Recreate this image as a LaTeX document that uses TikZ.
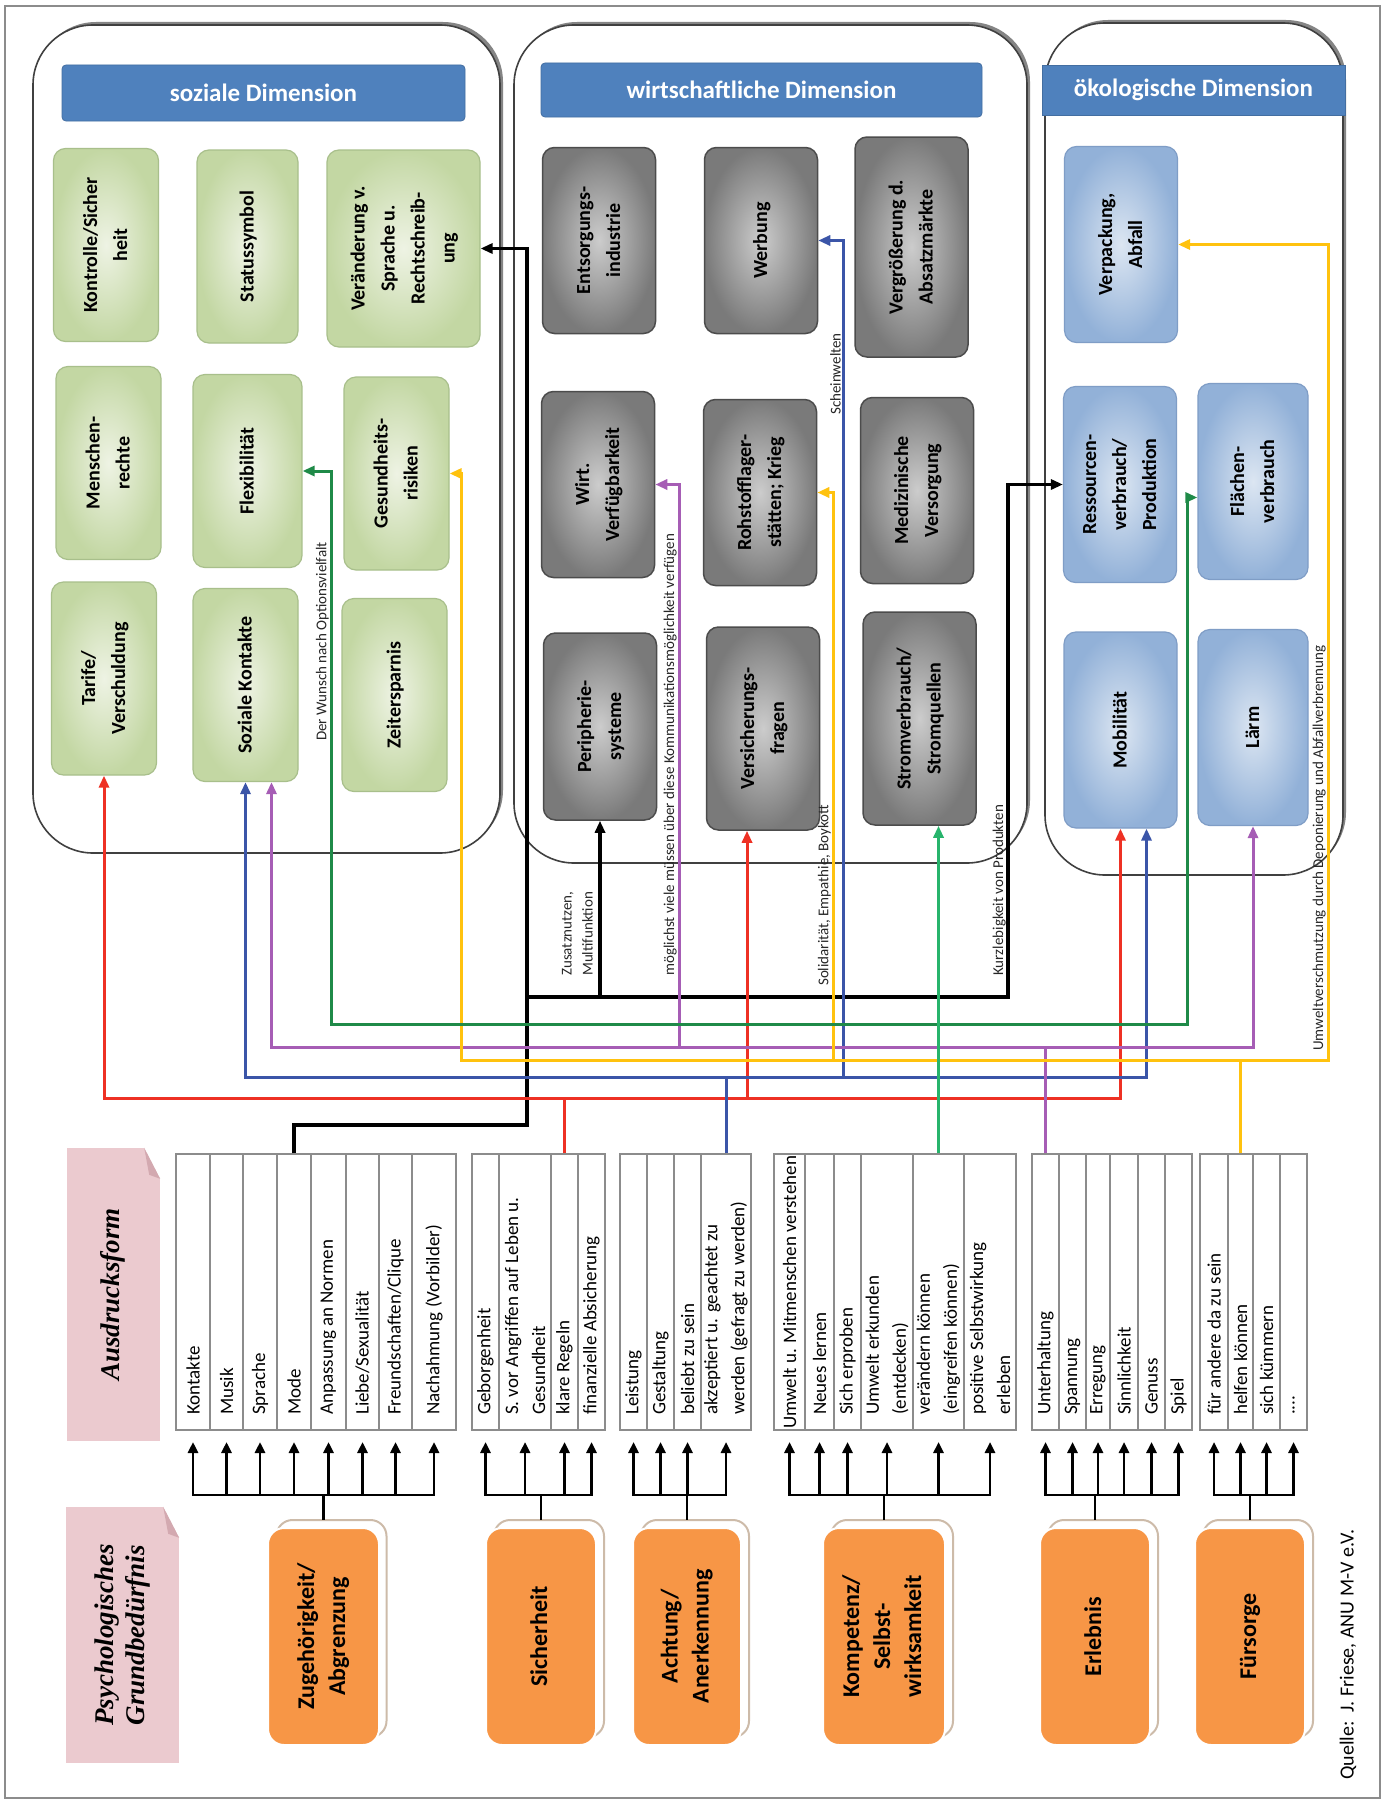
\documentclass[tikz,border=0pt]{standalone}
\usepackage{fontspec}
\setmainfont{Carlito}
\newfontfamily\notefont{Liberation Serif}
\usetikzlibrary{arrows.meta,calc,shadows}
\definecolor{hdblue}{HTML}{4F81BD}
\definecolor{grnlight}{HTML}{EEF3E4}
\definecolor{grndark}{HTML}{C3D7A3}
\definecolor{grnedge}{HTML}{A8BF8B}
\definecolor{bluelight}{HTML}{DCE6F2}
\definecolor{bluedark}{HTML}{92B1D8}
\definecolor{blueedge}{HTML}{7F9DC6}
\definecolor{needorange}{HTML}{F79646}
\definecolor{cardedge}{HTML}{CDBBA9}
\definecolor{notepink}{HTML}{EBCACF}
\definecolor{notefold}{HTML}{D3A9B0}
\definecolor{lnred}{HTML}{EE3124}
\definecolor{lnblue}{HTML}{3B55A8}
\definecolor{lnpurple}{HTML}{A65DB5}
\definecolor{lngreen}{HTML}{1F8A48}
\definecolor{lnstrom}{HTML}{27B46C}
\definecolor{lnyellow}{HTML}{FFC20E}
\newcommand{\rotlbl}[1]{\rotatebox{90}{\begin{tabular}{@{}c@{}}#1\end{tabular}}}

\begin{document}
\begin{tikzpicture}[x=1pt, y=-1pt,
    dimbox/.style={draw=black!75, line width=1.6pt, fill=white, rounded corners=60pt, inner sep=0pt,
      drop shadow={shadow xshift=3pt, shadow yshift=3pt, fill=black!60, opacity=0.8}},
    dimhead/.style={fill=hdblue, draw=hdblue!85!black, line width=0.8pt, rounded corners=4pt, inner sep=0pt,
      text=white, font=\fontsize{25}{30}\selectfont\bfseries},
    soz/.style={draw=grnedge, line width=1.2pt, rounded corners=12pt, inner color=grnlight, outer color=grndark,
      inner sep=0pt, minimum width=105pt, minimum height=193pt, font=\fontsize{20}{30}\selectfont\bfseries},
    wirt/.style={draw=black!70, line width=1.5pt, rounded corners=12pt, inner color=black!20, outer color=black!52,
      inner sep=0pt, minimum width=113pt, minimum height=186pt, font=\fontsize{20}{30}\selectfont\bfseries},
    oeko/.style={draw=blueedge, line width=1.2pt, rounded corners=12pt, inner color=bluelight, outer color=bluedark,
      inner sep=0pt, minimum width=113pt, minimum height=196pt, font=\fontsize{20}{30}\selectfont\bfseries},
    need/.style={fill=needorange, draw=white, line width=2pt, rounded corners=16pt, inner sep=0pt,
      minimum width=110pt, minimum height=217pt, font=\fontsize{24}{31}\selectfont\bfseries},
    needback/.style={fill=white, draw=cardedge, line width=2pt, rounded corners=16pt, inner sep=0pt,
      minimum width=110pt, minimum height=217pt},
    liste/.style={draw=black!45, line width=1.5pt, fill=white, inner sep=0pt, minimum height=276pt},
    sep/.style={draw=black!45, line width=1.5pt},
    item/.style={rotate=90, anchor=west, inner sep=0pt, align=left, font=\fontsize{19}{27}\selectfont},
    note/.style={fill=notepink, inner sep=0pt, font=\notefont\fontsize{27}{31}\selectfont\bfseries\itshape},
    fanline/.style={line width=2.6pt, line cap=rect},
    fan/.style={line width=2.6pt, -{Triangle[length=11pt,width=10pt]}},
    lnk/.style={line width=3pt, -{Triangle[length=12pt,width=10pt]}},
    lnk2/.style={line width=3pt, {Triangle[length=12pt,width=10pt]}-{Triangle[length=12pt,width=10pt]}},
    lbl/.style={rotate=90, anchor=south west, inner sep=2pt, align=left, text=black!85,
      font=\fontsize{15}{21}\selectfont}]
  \useasboundingbox (0,0) rectangle (1385,1801);
  \draw[black!45, line width=2pt] (5,6) rectangle (1380,1798);

  % dimensionen
  \node[dimbox, minimum width=467pt, minimum height=828pt] (sozial) at (266.5,439) {};
  \node[dimbox, minimum width=513pt, minimum height=838pt] (wirtschaft) at (770.5,444) {};
  \node[dimbox, minimum width=298pt, minimum height=852pt] (oekologie) at (1194,449) {};
  \node[dimhead, minimum width=403pt, minimum height=56pt] (sozhead) at (263.5,93) {soziale Dimension};
  \node[dimhead, minimum width=441pt, minimum height=54pt] (wirthead) at (761.5,90) {wirtschaftliche Dimension};
  \node[dimhead, rounded corners=0pt, minimum width=303pt, minimum height=50pt] (oekohead) at (1193.5,90) {ökologische Dimension};

  % soziale Dimension
  \node[soz] (kontrolle) at (106,245) {\rotlbl{Kontrolle/Sicher\\heit}};
  \node[soz, minimum width=101pt] (status) at (247.5,246.5) {\rotlbl{Statussymbol}};
  \node[soz, minimum width=153pt, minimum height=197pt] (veraend) at (403.5,248.5) {\rotlbl{Veränderung v.\\Sprache u.\\Rechtschreib-\\ung}};
  \node[soz] (menschen) at (108.5,463) {\rotlbl{Menschen-\\rechte}};
  \node[soz, minimum width=109pt] (flex) at (247.5,471) {\rotlbl{Flexibilität}};
  \node[soz] (gesund) at (396.5,473.5) {\rotlbl{Gesundheits-\\risiken}};
  \node[soz] (tarife) at (104,678.5) {\rotlbl{Tarife/\\Verschuldung}};
  \node[soz] (sozkont) at (245.5,685) {\rotlbl{Soziale Kontakte}};
  \node[soz] (zeit) at (394.5,695) {\rotlbl{Zeitersparnis}};

  % wirtschaftliche Dimension
  \node[wirt] (entsorg) at (599,240.5) {\rotlbl{Entsorgungs-\\industrie}};
  \node[wirt] (werbung) at (761,240.5) {\rotlbl{Werbung}};
  \node[wirt, minimum height=220pt] (vergr) at (911.5,247) {\rotlbl{Vergrößerung d.\\Absatzmärkte}};
  \node[wirt] (wirtv) at (598,484.5) {\rotlbl{Wirt.\\Verfügbarkeit}};
  \node[wirt] (rohstoff) at (760,492.5) {\rotlbl{Rohstofflager-\\stätten; Krieg}};
  \node[wirt] (medizin) at (917,490.5) {\rotlbl{Medizinische\\Versorgung}};
  \node[wirt, minimum height=187pt] (periph) at (600,726.5) {\rotlbl{Peripherie-\\systeme}};
  \node[wirt, minimum height=203pt] (versich) at (763,728.5) {\rotlbl{Versicherungs-\\fragen}};
  \node[wirt, minimum height=213pt] (strom) at (919.5,718.5) {\rotlbl{Stromverbrauch/\\Stromquellen}};

  % oekologische Dimension
  \node[oeko] (verpack) at (1121,244.5) {\rotlbl{Verpackung,\\Abfall}};
  \node[oeko] (ressourc) at (1120,484.5) {\rotlbl{Ressourcen-\\verbrauch/\\Produktion}};
  \node[oeko, minimum width=110pt] (flaechen) at (1253,481.5) {\rotlbl{Flächen-\\verbrauch}};
  \node[oeko] (mobil) at (1120.5,730) {\rotlbl{Mobilität}};
  \node[oeko, minimum width=110pt] (laerm) at (1253,727.5) {\rotlbl{Lärm}};

  % Ausdrucksformen
  \node[liste, minimum width=280pt] (l1) at (316,1292) {};
  \node[liste, minimum width=133pt] (l2) at (538.5,1292) {};
  \node[liste, minimum width=131pt] (l3) at (685.5,1292) {};
  \node[liste, minimum width=242pt] (l4) at (895,1292) {};
  \node[liste, minimum width=160pt] (l5) at (1112,1292) {};
  \node[liste, minimum width=107pt] (l6) at (1253.5,1292) {};
  \draw[sep] (210,1154) -- (210,1430);
  \draw[sep] (243,1154) -- (243,1430);
  \draw[sep] (277,1154) -- (277,1430);
  \draw[sep] (311,1154) -- (311,1430);
  \draw[sep] (346,1154) -- (346,1430);
  \draw[sep] (379,1154) -- (379,1430);
  \draw[sep] (412,1154) -- (412,1430);
  \draw[sep] (499,1154) -- (499,1430);
  \draw[sep] (551,1154) -- (551,1430);
  \draw[sep] (578,1154) -- (578,1430);
  \draw[sep] (647,1154) -- (647,1430);
  \draw[sep] (674,1154) -- (674,1430);
  \draw[sep] (701,1154) -- (701,1430);
  \draw[sep] (805,1154) -- (805,1430);
  \draw[sep] (834,1154) -- (834,1430);
  \draw[sep] (861,1154) -- (861,1430);
  \draw[sep] (913,1154) -- (913,1430);
  \draw[sep] (964,1154) -- (964,1430);
  \draw[sep] (1059,1154) -- (1059,1430);
  \draw[sep] (1086,1154) -- (1086,1430);
  \draw[sep] (1110,1154) -- (1110,1430);
  \draw[sep] (1138,1154) -- (1138,1430);
  \draw[sep] (1165,1154) -- (1165,1430);
  \draw[sep] (1228,1154) -- (1228,1430);
  \draw[sep] (1253,1154) -- (1253,1430);
  \draw[sep] (1280,1154) -- (1280,1430);

  \node[item] (c11) at (193,1415) {Kontakte};
  \node[item] (c12) at (226.5,1415) {Musik};
  \node[item] (c13) at (260,1415) {Sprache};
  \node[item] (c14) at (294,1415) {Mode};
  \node[item] (c15) at (328.5,1415) {Anpassung an Normen};
  \node[item] (c16) at (362.5,1415) {Liebe/Sexualität};
  \node[item] (c17) at (395.5,1415) {Freundschaften/Clique};
  \node[item] (c18) at (434,1415) {Nachahmung (Vorbilder)};
  \node[item] (c21) at (485.5,1415) {Geborgenheit};
  \node[item] (c22) at (525,1415) {S. vor Angriffen auf Leben u.\\Gesundheit};
  \node[item] (c23) at (564.5,1415) {klare Regeln};
  \node[item] (c24) at (591.5,1415) {finanzielle Absicherung};
  \node[item] (c31) at (633.5,1415) {Leistung};
  \node[item] (c32) at (660.5,1415) {Gestaltung};
  \node[item] (c33) at (687.5,1415) {beliebt zu sein};
  \node[item] (c34) at (726,1415) {akzeptiert u. geachtet zu\\werden (gefragt zu werden)};
  \node[item] (c41) at (789.5,1429) {Umwelt u. Mitmenschen verstehen};
  \node[item] (c42) at (819.5,1415) {Neues lernen};
  \node[item] (c43) at (847.5,1415) {Sich erproben};
  \node[item] (c44) at (887,1415) {Umwelt erkunden\\(entdecken)};
  \node[item] (c45) at (938.5,1415) {verändern können\\(eingreifen können)};
  \node[item] (c46) at (990,1415) {positive Selbstwirkung\\erleben};
  \node[item] (c51) at (1045.5,1415) {Unterhaltung};
  \node[item] (c52) at (1072.5,1415) {Spannung};
  \node[item] (c53) at (1098,1415) {Erregung};
  \node[item] (c54) at (1124,1415) {Sinnlichkeit};
  \node[item] (c55) at (1151.5,1415) {Genuss};
  \node[item] (c56) at (1178.5,1415) {Spiel};
  \node[item] (c61) at (1214,1415) {für andere da zu sein};
  \node[item] (c62) at (1240.5,1415) {helfen können};
  \node[item] (c63) at (1266.5,1415) {sich kümmern};
  \node[item] (c64) at (1293.5,1415) {....};

  % Notizzettel
  \node[note, minimum width=93pt, minimum height=293pt] (ausnote) at (113.5,1294.5) {\rotlbl{Ausdrucksform}};
  \node[note, minimum width=113pt, minimum height=256pt] (psynote) at (122.5,1635) {\rotlbl{Psychologisches\\Grundbedürfnis}};
  \fill[white] ($(ausnote.north east)+(-16,0)$) -- (ausnote.north east) -- ($(ausnote.north east)+(0,31)$) -- cycle;
  \fill[notefold] ($(ausnote.north east)+(-16,0)$) -- ($(ausnote.north east)+(0,31)$) -- ($(ausnote.north east)+(-11,27)$) -- cycle;
  \fill[white] ($(psynote.north east)+(-16,0)$) -- (psynote.north east) -- ($(psynote.north east)+(0,31)$) -- cycle;
  \fill[notefold] ($(psynote.north east)+(-16,0)$) -- ($(psynote.north east)+(0,31)$) -- ($(psynote.north east)+(-11,27)$) -- cycle;

  % Grundbeduerfnisse
  \node[needback] (zugB) at (331.5,1628.5) {};
  \node[needback] (sichB) at (549,1628.5) {};
  \node[needback, minimum width=108pt] (achtB) at (695,1628.5) {};
  \node[needback, minimum width=122pt] (kompB) at (892,1628.5) {};
  \node[needback] (erlebB) at (1103,1628.5) {};
  \node[needback] (fuersB) at (1258,1628.5) {};
  \node[need, minimum width=111pt] (zug) at (323.5,1636.5) {\rotlbl{Zugehörigkeit/\\Abgrenzung}};
  \node[need] (sich) at (541,1636.5) {\rotlbl{Sicherheit}};
  \node[need, minimum width=108pt] (acht) at (687,1636.5) {\rotlbl{Achtung/\\Anerkennung}};
  \node[need, minimum width=122pt] (komp) at (884,1636.5) {\rotlbl{Kompetenz/\\Selbst-\\wirksamkeit}};
  \node[need] (erleb) at (1095,1636.5) {\rotlbl{Erlebnis}};
  \node[need] (fuers) at (1250,1636.5) {\rotlbl{Fürsorge}};

  \node[rotate=90, anchor=west, inner sep=0pt, font=\fontsize{20}{24}\selectfont] (quelle) at (1348,1780) {Quelle:~~J. Friese, ANU M-V e.V.};

  % Hilfspunkte
  \coordinate (grnbus) at (0,1024);
  \coordinate (purbus) at (0,1047);
  \coordinate (yelbus) at (0,1060);
  \coordinate (blubus) at (0,1077);
  \coordinate (redbus) at (0,1098);
  \coordinate (blkA) at (527,1125);
  \coordinate (blkJ) at (527,997);
  \coordinate (blkK) at (1008,997);
  \coordinate (gx1) at (331,0);
  \coordinate (gx2) at (1187,0);
  \coordinate (px) at (679,0);
  \coordinate (bx) at (843,0);
  \coordinate (yx1) at (461,0);
  \coordinate (yx2) at (833,0);
  \coordinate (yx3) at (1328,0);
  \coordinate (bar) at (0,1495);
  \coordinate (tip) at (0,1442);
  \coordinate (versin) at ($(versich.south)+(-16,0)$);
  \coordinate (sozP) at ($(sozkont.south)+(26,0)$);
  \coordinate (mobB) at ($(mobil.south)+(26,0)$);
  \coordinate (flaein) at ($(flaechen.west)+(0,16)$);

  % Verbindungen
  \draw[lnk, line width=3.5pt] (c14.west |- l1.north) -- (c14.west |- blkA) -- (blkA) -- (blkJ |- veraend.east) -- (veraend.east);
  \draw[lnk, line width=3.5pt] (blkJ) -- (blkK) -- (blkK |- ressourc.west) -- (ressourc.west);
  \draw[lnk, line width=3.5pt] (periph.south |- blkJ) -- (periph.south);

  \draw[lnred, line width=3pt] (c23.west |- l2.north) -- (c23.west |- redbus);
  \draw[lnk2, lnred] (tarife.south) -- (tarife.south |- redbus) -- (mobil.south |- redbus) -- (mobil.south);
  \draw[lnk, lnred] (versin |- redbus) -- (versin);

  \draw[lnblue, line width=3pt] (c34.west |- l3.north) -- (c34.west |- blubus);
  \draw[lnk2, lnblue] (sozkont.south) -- (sozkont.south |- blubus) -- (mobB |- blubus) -- (mobB);
  \draw[lnk, lnblue] (bx |- blubus) -- (bx |- werbung.east) -- (werbung.east);

  \draw[lnpurple, line width=3pt] (c51.west |- l5.north) -- (c51.west |- purbus);
  \draw[lnk2, lnpurple] (sozP) -- (sozP |- purbus) -- (laerm.south |- purbus) -- (laerm.south);
  \draw[lnk, lnpurple] (px |- purbus) -- (px |- wirtv.east) -- (wirtv.east);

  \draw[lnyellow, line width=3pt] (c62.west |- l6.north) -- (c62.west |- yelbus);
  \draw[lnk2, lnyellow] (gesund.east) -- (yx1 |- gesund.east) -- (yx1 |- yelbus) -- (yx3 |- yelbus) -- (yx3 |- verpack.east) -- (verpack.east);
  \draw[lnk, lnyellow] (yx2 |- yelbus) -- (yx2 |- rohstoff.east) -- (rohstoff.east);

  \draw[lnk2, lngreen] (flex.east) -- (gx1 |- flex.east) -- (gx1 |- grnbus) -- (gx2 |- grnbus) -- (gx2 |- flaein) -- (flaein);
  \draw[lnk, lnstrom] (c45.west |- l4.north) -- (c45.west |- strom.south);

  % Beschriftungen
  \node[lbl] (wunsch) at (331,743) {Der Wunsch nach Optionsvielfalt};
  \node[lbl] (zusatz) at (595,978) {Zusatznutzen,\\Multifunktion};
  \node[lbl] (kommunik) at (679,978) {möglichst viele müssen über diese Kommunikationsmöglichkeit verfügen};
  \node[lbl] (solid) at (833,988) {Solidarität, Empathie, Boykott};
  \node[lbl] (schein) at (843,417) {Scheinwelten};
  \node[lbl] (kurz) at (1008,978) {Kurzlebigkeit von Produkten};
  \node[lbl] (umwelt) at (1328,1053) {Umweltverschmutzung durch Deponierung und Abfallverbrennung};

  % Zugehoerigkeit
  \draw[fanline] (zug.north |- zugB.north) -- (zug.north |- bar);
  \draw[fanline] (c11.west |- bar) -- (c18.west |- bar);
  \draw[fan] (c11.west |- bar) -- (c11.west |- tip);
  \draw[fan] (c12.west |- bar) -- (c12.west |- tip);
  \draw[fan] (c13.west |- bar) -- (c13.west |- tip);
  \draw[fan] (c14.west |- bar) -- (c14.west |- tip);
  \draw[fan] (c15.west |- bar) -- (c15.west |- tip);
  \draw[fan] (c16.west |- bar) -- (c16.west |- tip);
  \draw[fan] (c17.west |- bar) -- (c17.west |- tip);
  \draw[fan] (c18.west |- bar) -- (c18.west |- tip);
  % Sicherheit
  \draw[fanline] (sich.north |- sichB.north) -- (sich.north |- bar);
  \draw[fanline] (c21.west |- bar) -- (c24.west |- bar);
  \draw[fan] (c21.west |- bar) -- (c21.west |- tip);
  \draw[fan] (c22.west |- bar) -- (c22.west |- tip);
  \draw[fan] (c23.west |- bar) -- (c23.west |- tip);
  \draw[fan] (c24.west |- bar) -- (c24.west |- tip);
  % Achtung
  \draw[fanline] (acht.north |- achtB.north) -- (acht.north |- bar);
  \draw[fanline] (c31.west |- bar) -- (c34.west |- bar);
  \draw[fan] (c31.west |- bar) -- (c31.west |- tip);
  \draw[fan] (c32.west |- bar) -- (c32.west |- tip);
  \draw[fan] (c33.west |- bar) -- (c33.west |- tip);
  \draw[fan] (c34.west |- bar) -- (c34.west |- tip);
  % Kompetenz
  \draw[fanline] (komp.north |- kompB.north) -- (komp.north |- bar);
  \draw[fanline] (c41.west |- bar) -- (c46.west |- bar);
  \draw[fan] (c41.west |- bar) -- (c41.west |- tip);
  \draw[fan] (c42.west |- bar) -- (c42.west |- tip);
  \draw[fan] (c43.west |- bar) -- (c43.west |- tip);
  \draw[fan] (c44.west |- bar) -- (c44.west |- tip);
  \draw[fan] (c45.west |- bar) -- (c45.west |- tip);
  \draw[fan] (c46.west |- bar) -- (c46.west |- tip);
  % Erlebnis
  \draw[fanline] (erleb.north |- erlebB.north) -- (erleb.north |- bar);
  \draw[fanline] (c51.west |- bar) -- (c56.west |- bar);
  \draw[fan] (c51.west |- bar) -- (c51.west |- tip);
  \draw[fan] (c52.west |- bar) -- (c52.west |- tip);
  \draw[fan] (c53.west |- bar) -- (c53.west |- tip);
  \draw[fan] (c54.west |- bar) -- (c54.west |- tip);
  \draw[fan] (c55.west |- bar) -- (c55.west |- tip);
  \draw[fan] (c56.west |- bar) -- (c56.west |- tip);
  % Fuersorge
  \draw[fanline] (fuers.north |- fuersB.north) -- (fuers.north |- bar);
  \draw[fanline] (c61.west |- bar) -- (c64.west |- bar);
  \draw[fan] (c61.west |- bar) -- (c61.west |- tip);
  \draw[fan] (c62.west |- bar) -- (c62.west |- tip);
  \draw[fan] (c63.west |- bar) -- (c63.west |- tip);
  \draw[fan] (c64.west |- bar) -- (c64.west |- tip);
\end{tikzpicture}
\end{document}
